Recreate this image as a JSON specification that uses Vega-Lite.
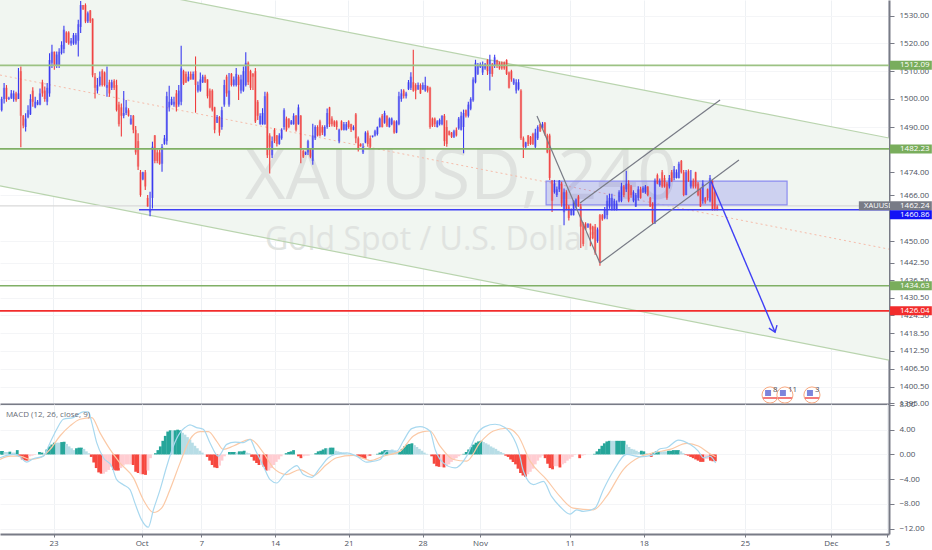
{"$schema":"https://vega.github.io/schema/vega-lite/v6.json","padding":{"left":-3,"right":0,"top":0,"bottom":0},"spacing":0,"bounds":"flush","background":"white","config":{"view":{"stroke":null},"font":"Open Sans","concat":{"spacing":0},"axis":{"labelOverlap":false},"axisY":{"labelOverlap":false},"axisQuantitative":{"labelOverlap":false}},
"datasets":{
"candles":[
{"b":0,"o":1496,"h":1500.8,"l":1495.5,"c":1500},{"b":1,"o":1500,"h":1505.7,"l":1498.4,"c":1504},{"b":2,"o":1504,"h":1505,"l":1499,"c":1500},{"b":3,"o":1500,"h":1500.8,"l":1499.6,"c":1500.4},{"b":4,"o":1500.4,"h":1503.2,"l":1500,"c":1502},{"b":5,"o":1500,"h":1503,"l":1499,"c":1502},{"b":6,"o":1502,"h":1502.6,"l":1499,"c":1499.6},{"b":7,"o":1500,"h":1511.1,"l":1500,"c":1502},{"b":8,"o":1510,"h":1511.7,"l":1482.8,"c":1494},{"b":9,"o":1494,"h":1494.3,"l":1489.6,"c":1490.5},{"b":10,"o":1490,"h":1494.9,"l":1488.4,"c":1493},{"b":11,"o":1493.5,"h":1497.8,"l":1493.1,"c":1496},{"b":12,"o":1494.5,"h":1501.7,"l":1494.3,"c":1500},{"b":13,"o":1503,"h":1504.2,"l":1497.2,"c":1499},{"b":14,"o":1497,"h":1500.8,"l":1496.7,"c":1499},{"b":15,"o":1498,"h":1499.6,"l":1497.8,"c":1499},{"b":16,"o":1498,"h":1503.8,"l":1497.8,"c":1502},{"b":17,"o":1506,"h":1506.9,"l":1500.8,"c":1502},{"b":18,"o":1503,"h":1504.5,"l":1499,"c":1500},{"b":19,"o":1499,"h":1505.7,"l":1497.8,"c":1504},{"b":20,"o":1502,"h":1516.5,"l":1500.8,"c":1514},{"b":21,"o":1513,"h":1519.5,"l":1511.1,"c":1517},{"b":22,"o":1517,"h":1517.1,"l":1510.5,"c":1512},{"b":23,"o":1512,"h":1517.1,"l":1511.1,"c":1516},{"b":24,"o":1512,"h":1518.3,"l":1511.1,"c":1517},{"b":25,"o":1516.5,"h":1520.8,"l":1516,"c":1519.5},{"b":26,"o":1518,"h":1526.4,"l":1516.5,"c":1525},{"b":27,"o":1524,"h":1524.4,"l":1520.2,"c":1520.5},{"b":28,"o":1524,"h":1524.4,"l":1519.5,"c":1520},{"b":29,"o":1520,"h":1522,"l":1519.2,"c":1521},{"b":30,"o":1520,"h":1523.8,"l":1519.5,"c":1523},{"b":31,"o":1520,"h":1523.8,"l":1519.5,"c":1523},{"b":32,"o":1521,"h":1528.6,"l":1515.3,"c":1527},{"b":33,"o":1526,"h":1535.5,"l":1523.8,"c":1534},{"b":34,"o":1534,"h":1534,"l":1532.2,"c":1532.5},{"b":35,"o":1534,"h":1534.6,"l":1527.4,"c":1528},{"b":36,"o":1528,"h":1531.6,"l":1527.4,"c":1531},{"b":37,"o":1532,"h":1532.2,"l":1527.4,"c":1528},{"b":38,"o":1529,"h":1529.2,"l":1507.8,"c":1508.5},{"b":39,"o":1508,"h":1509.3,"l":1500.2,"c":1504},{"b":40,"o":1503,"h":1507.5,"l":1502,"c":1505},{"b":41,"o":1505,"h":1509.9,"l":1504.5,"c":1508},{"b":42,"o":1510,"h":1510.7,"l":1504.5,"c":1505},{"b":43,"o":1509.5,"h":1509.9,"l":1504.5,"c":1505},{"b":44,"o":1504,"h":1511.7,"l":1500.8,"c":1505},{"b":45,"o":1506,"h":1506.9,"l":1500.8,"c":1502},{"b":46,"o":1504,"h":1506.9,"l":1503.2,"c":1506},{"b":47,"o":1506.5,"h":1507.1,"l":1503.2,"c":1504},{"b":48,"o":1505,"h":1506.9,"l":1495.5,"c":1496},{"b":49,"o":1498,"h":1499,"l":1490.2,"c":1491},{"b":50,"o":1497,"h":1498.4,"l":1486.6,"c":1494},{"b":51,"o":1494,"h":1502.9,"l":1493.1,"c":1495},{"b":52,"o":1495,"h":1499.6,"l":1494.3,"c":1497},{"b":53,"o":1496,"h":1496.7,"l":1493.7,"c":1494},{"b":54,"o":1491,"h":1494.3,"l":1490.8,"c":1493},{"b":55,"o":1494,"h":1494.3,"l":1487.8,"c":1489},{"b":56,"o":1489,"h":1490.4,"l":1480.2,"c":1481},{"b":57,"o":1485,"h":1487.8,"l":1474.8,"c":1476},{"b":58,"o":1474,"h":1474.8,"l":1465.4,"c":1466},{"b":59,"o":1471.5,"h":1474.2,"l":1471.2,"c":1474},{"b":60,"o":1474,"h":1474.8,"l":1467.8,"c":1469},{"b":61,"o":1465,"h":1466,"l":1461.9,"c":1462},{"b":62,"o":1460,"h":1467.2,"l":1458.6,"c":1461},{"b":63,"o":1465,"h":1484.8,"l":1461.3,"c":1483},{"b":64,"o":1487,"h":1487.2,"l":1477.2,"c":1478},{"b":65,"o":1481,"h":1481.9,"l":1477.2,"c":1478},{"b":66,"o":1481,"h":1481.9,"l":1476.6,"c":1477},{"b":67,"o":1477,"h":1484,"l":1474.2,"c":1483},{"b":68,"o":1484,"h":1487.2,"l":1483.7,"c":1486},{"b":69,"o":1485,"h":1502.6,"l":1483.7,"c":1501},{"b":70,"o":1497,"h":1504.7,"l":1495.5,"c":1499},{"b":71,"o":1498,"h":1500.8,"l":1497.8,"c":1500},{"b":72,"o":1498,"h":1500.8,"l":1497.2,"c":1499},{"b":73,"o":1502,"h":1503.2,"l":1495.5,"c":1497},{"b":74,"o":1498,"h":1505,"l":1497.2,"c":1503},{"b":75,"o":1499,"h":1519.2,"l":1497.8,"c":1511},{"b":76,"o":1510,"h":1510.5,"l":1505,"c":1505.5},{"b":77,"o":1509,"h":1509.9,"l":1505.7,"c":1506},{"b":78,"o":1506.5,"h":1509.9,"l":1506.3,"c":1508},{"b":79,"o":1509,"h":1509.9,"l":1506.9,"c":1507},{"b":80,"o":1507,"h":1509.9,"l":1506.9,"c":1509},{"b":81,"o":1510,"h":1515.3,"l":1495.1,"c":1505},{"b":82,"o":1503,"h":1506.3,"l":1502.3,"c":1505},{"b":83,"o":1503,"h":1509.5,"l":1502.6,"c":1507},{"b":84,"o":1506,"h":1508.7,"l":1505.7,"c":1508},{"b":85,"o":1508,"h":1508.7,"l":1505.7,"c":1506},{"b":86,"o":1507,"h":1507.1,"l":1500.2,"c":1501},{"b":87,"o":1503,"h":1503.8,"l":1496.7,"c":1497},{"b":88,"o":1503,"h":1503.5,"l":1495.5,"c":1496},{"b":89,"o":1497,"h":1497.2,"l":1487.8,"c":1489},{"b":90,"o":1491.5,"h":1494.3,"l":1491.4,"c":1493.5},{"b":91,"o":1493.5,"h":1493.9,"l":1486.9,"c":1488},{"b":92,"o":1490,"h":1497.2,"l":1489,"c":1496},{"b":93,"o":1498,"h":1506.9,"l":1497.2,"c":1505},{"b":94,"o":1508,"h":1508.7,"l":1500.8,"c":1502},{"b":95,"o":1498,"h":1509.3,"l":1497.2,"c":1503},{"b":96,"o":1509,"h":1509.3,"l":1504.5,"c":1505},{"b":97,"o":1505,"h":1508.1,"l":1504.5,"c":1507},{"b":98,"o":1505,"h":1511.1,"l":1504.5,"c":1509},{"b":99,"o":1508,"h":1508.7,"l":1499.6,"c":1505},{"b":100,"o":1503,"h":1508.7,"l":1502,"c":1507},{"b":101,"o":1503,"h":1511.7,"l":1502.6,"c":1510},{"b":102,"o":1505,"h":1516.8,"l":1504.5,"c":1513},{"b":103,"o":1513,"h":1513.5,"l":1505,"c":1506},{"b":104,"o":1510,"h":1510.5,"l":1503.2,"c":1504},{"b":105,"o":1509,"h":1509.3,"l":1503.2,"c":1508},{"b":106,"o":1510,"h":1511.1,"l":1491.4,"c":1492},{"b":107,"o":1499,"h":1499.6,"l":1492.5,"c":1494},{"b":108,"o":1491,"h":1494.9,"l":1490.8,"c":1494},{"b":109,"o":1491,"h":1496.7,"l":1490.8,"c":1495},{"b":110,"o":1491,"h":1502.6,"l":1490.8,"c":1501},{"b":111,"o":1502,"h":1502.6,"l":1479,"c":1480},{"b":112,"o":1487,"h":1487.8,"l":1473.6,"c":1483},{"b":113,"o":1480,"h":1486.6,"l":1479,"c":1485},{"b":114,"o":1489,"h":1489.6,"l":1484.3,"c":1485},{"b":115,"o":1487,"h":1487.2,"l":1483.1,"c":1484},{"b":116,"o":1484,"h":1487.8,"l":1483.7,"c":1487},{"b":117,"o":1486,"h":1489.6,"l":1485.5,"c":1489},{"b":118,"o":1490,"h":1496.7,"l":1489,"c":1496},{"b":119,"o":1493,"h":1493.7,"l":1488.4,"c":1489},{"b":120,"o":1493,"h":1493.1,"l":1489.6,"c":1490},{"b":121,"o":1491,"h":1492.5,"l":1490.8,"c":1492},{"b":122,"o":1491,"h":1494.9,"l":1490.8,"c":1494},{"b":123,"o":1494,"h":1494.3,"l":1488.4,"c":1489},{"b":124,"o":1491,"h":1498,"l":1490.8,"c":1497},{"b":125,"o":1494,"h":1494.3,"l":1477.2,"c":1482},{"b":126,"o":1481.5,"h":1481.9,"l":1479,"c":1479.5},{"b":127,"o":1480.3,"h":1481.3,"l":1480.1,"c":1481},{"b":128,"o":1481,"h":1485.5,"l":1480.1,"c":1485},
{"b":129,"o":1482,"h":1482.5,"l":1478.9,"c":1479.5},{"b":130,"o":1478,"h":1491.2,"l":1476.6,"c":1487},{"b":131,"o":1486,"h":1490.6,"l":1485.4,"c":1490},{"b":132,"o":1490,"h":1490.6,"l":1486.6,"c":1487},{"b":133,"o":1492,"h":1492.6,"l":1486.6,"c":1487},{"b":134,"o":1490,"h":1490.6,"l":1487.2,"c":1488},{"b":135,"o":1487,"h":1490.6,"l":1486.6,"c":1490},{"b":136,"o":1490,"h":1496.6,"l":1489.4,"c":1495},{"b":137,"o":1497,"h":1497.2,"l":1490,"c":1491},{"b":138,"o":1493,"h":1493.8,"l":1490.2,"c":1491},{"b":139,"o":1492,"h":1492.4,"l":1490,"c":1490.5},{"b":140,"o":1492,"h":1492.4,"l":1489,"c":1490},{"b":141,"o":1485,"h":1489.4,"l":1484.2,"c":1489},{"b":142,"o":1492,"h":1492.4,"l":1488.8,"c":1489},{"b":143,"o":1489,"h":1491.8,"l":1488.8,"c":1491},{"b":144,"o":1489,"h":1491.8,"l":1488.8,"c":1491},{"b":145,"o":1492,"h":1492.4,"l":1489.4,"c":1490},{"b":146,"o":1491,"h":1491.2,"l":1488.2,"c":1489},{"b":147,"o":1489,"h":1490.6,"l":1488.8,"c":1490},{"b":148,"o":1494.5,"h":1495,"l":1484.2,"c":1486},{"b":149,"o":1486,"h":1486.6,"l":1481.3,"c":1482},{"b":150,"o":1484,"h":1484.2,"l":1483,"c":1483.2},{"b":151,"o":1481,"h":1484.2,"l":1480.4,"c":1483},{"b":152,"o":1484.5,"h":1488.5,"l":1484.2,"c":1488},{"b":153,"o":1488,"h":1488.8,"l":1483,"c":1484},{"b":154,"o":1486,"h":1487,"l":1482.5,"c":1483},{"b":155,"o":1486.5,"h":1487,"l":1486.3,"c":1487},{"b":156,"o":1487,"h":1489,"l":1486.6,"c":1488.5},{"b":157,"o":1487.5,"h":1490.2,"l":1487,"c":1490},{"b":158,"o":1490,"h":1493.4,"l":1489.8,"c":1493},{"b":159,"o":1494,"h":1494.6,"l":1489.8,"c":1490},{"b":160,"o":1491.5,"h":1495.8,"l":1491.2,"c":1495},{"b":161,"o":1494,"h":1494.2,"l":1490,"c":1490.5},{"b":162,"o":1490,"h":1493.4,"l":1489.8,"c":1493},{"b":163,"o":1491,"h":1493.4,"l":1490.6,"c":1493},{"b":164,"o":1492,"h":1492.4,"l":1487.6,"c":1488},{"b":165,"o":1488,"h":1492.4,"l":1487.8,"c":1492},{"b":166,"o":1491,"h":1502.6,"l":1490.6,"c":1501},{"b":167,"o":1500,"h":1503.5,"l":1499,"c":1502},{"b":168,"o":1503,"h":1503.5,"l":1500.2,"c":1501},{"b":169,"o":1501,"h":1502.6,"l":1500.2,"c":1502},{"b":170,"o":1503.5,"h":1506.8,"l":1503.2,"c":1506},{"b":171,"o":1504,"h":1509.6,"l":1503.2,"c":1508},{"b":172,"o":1506,"h":1517.7,"l":1502.6,"c":1503},{"b":173,"o":1505,"h":1505.6,"l":1499.9,"c":1503},{"b":174,"o":1503.5,"h":1505.9,"l":1503.2,"c":1505},{"b":175,"o":1505,"h":1505.6,"l":1501.8,"c":1502},{"b":176,"o":1503.5,"h":1505.9,"l":1503.2,"c":1505},{"b":177,"o":1503,"h":1508,"l":1502.6,"c":1505},{"b":178,"o":1504.5,"h":1504.7,"l":1502.3,"c":1503},{"b":179,"o":1504,"h":1504.4,"l":1489.4,"c":1490},{"b":180,"o":1493,"h":1493.4,"l":1490,"c":1490.5},{"b":181,"o":1493,"h":1493.4,"l":1490,"c":1491},{"b":182,"o":1490,"h":1492.4,"l":1489.8,"c":1492},{"b":183,"o":1491,"h":1493,"l":1490.5,"c":1492.5},
{"b":184,"o":1491,"h":1494.2,"l":1490.6,"c":1494},{"b":185,"o":1494,"h":1494.6,"l":1483.3,"c":1485},{"b":186,"o":1490,"h":1492.4,"l":1483,"c":1484},{"b":187,"o":1488.5,"h":1488.8,"l":1487,"c":1487.2},{"b":188,"o":1488,"h":1488.2,"l":1486.1,"c":1486.5},{"b":189,"o":1486.5,"h":1489,"l":1486.1,"c":1488.5},{"b":190,"o":1489,"h":1489.8,"l":1486.6,"c":1487},{"b":191,"o":1489.5,"h":1493.6,"l":1489,"c":1493},{"b":192,"o":1489,"h":1495.4,"l":1488.8,"c":1494},{"b":193,"o":1490,"h":1496.2,"l":1480.7,"c":1495},{"b":194,"o":1496,"h":1496.2,"l":1493.4,"c":1494},{"b":195,"o":1494,"h":1499,"l":1493.4,"c":1498},{"b":196,"o":1496.5,"h":1500.6,"l":1496,"c":1500},{"b":197,"o":1499.5,"h":1507.8,"l":1499,"c":1507},{"b":198,"o":1506,"h":1514.1,"l":1505.6,"c":1513},{"b":199,"o":1509,"h":1512.9,"l":1508.6,"c":1512},{"b":200,"o":1511.5,"h":1513.1,"l":1511.1,"c":1512.5},{"b":201,"o":1509.5,"h":1513.5,"l":1508.6,"c":1512},{"b":202,"o":1511,"h":1512.9,"l":1510.5,"c":1512.5},{"b":203,"o":1514,"h":1514.3,"l":1508.6,"c":1510},{"b":204,"o":1509,"h":1515.9,"l":1503,"c":1514},{"b":205,"o":1512.5,"h":1512.9,"l":1508,"c":1509},{"b":206,"o":1512,"h":1515.9,"l":1511.1,"c":1515},{"b":207,"o":1514,"h":1514.1,"l":1511.1,"c":1512},{"b":208,"o":1513,"h":1513.5,"l":1510.5,"c":1511},{"b":209,"o":1513,"h":1513.5,"l":1510.5,"c":1511},{"b":210,"o":1513,"h":1513.5,"l":1510.5,"c":1511},{"b":211,"o":1514,"h":1514.3,"l":1508.6,"c":1509},{"b":212,"o":1509.5,"h":1509.9,"l":1503.8,"c":1504},{"b":213,"o":1510,"h":1510.5,"l":1506.2,"c":1507},{"b":214,"o":1505.5,"h":1507.4,"l":1505,"c":1507},{"b":215,"o":1503,"h":1507.1,"l":1502,"c":1506},{"b":216,"o":1503.5,"h":1507.1,"l":1503,"c":1506},{"b":217,"o":1503,"h":1503.5,"l":1485.4,"c":1486},{"b":218,"o":1486,"h":1486.6,"l":1479,"c":1483},{"b":219,"o":1483,"h":1484.8,"l":1482.5,"c":1484.5},{"b":220,"o":1487,"h":1487.2,"l":1483.3,"c":1484},{"b":221,"o":1486.5,"h":1486.8,"l":1483.6,"c":1484},{"b":222,"o":1487.5,"h":1488,"l":1483.6,"c":1484},{"b":223,"o":1483,"h":1489.4,"l":1482.5,"c":1488},{"b":224,"o":1486,"h":1490.6,"l":1485.4,"c":1490},{"b":225,"o":1491,"h":1491.2,"l":1488.2,"c":1488.5},{"b":226,"o":1489.5,"h":1491.8,"l":1489.4,"c":1491},{"b":227,"o":1491.5,"h":1491.8,"l":1487,"c":1487.5},{"b":228,"o":1487,"h":1487.6,"l":1480.7,"c":1481},{"b":229,"o":1487,"h":1487.6,"l":1471.3,"c":1472},{"b":230,"o":1471,"h":1471.3,"l":1460.1,"c":1464},{"b":231,"o":1467,"h":1471.3,"l":1466.5,"c":1470},{"b":232,"o":1466,"h":1469,"l":1465.3,"c":1468},{"b":233,"o":1468,"h":1471.3,"l":1467.1,"c":1471},{"b":234,"o":1470,"h":1470.7,"l":1461.9,"c":1463},{"b":235,"o":1460,"h":1468.3,"l":1455.5,"c":1467},{"b":236,"o":1467,"h":1467.7,"l":1460.7,"c":1461},{"b":237,"o":1462,"h":1462.5,"l":1457.1,"c":1458},{"b":238,"o":1459,"h":1461.3,"l":1458.9,"c":1461},{"b":239,"o":1459,"h":1464.2,"l":1458.9,"c":1464},{"b":240,"o":1462,"h":1464.8,"l":1461.3,"c":1464.5},{"b":241,"o":1465.5,"h":1466,"l":1461.9,"c":1462},
{"b":242,"o":1462,"h":1463,"l":1447.6,"c":1455},{"b":243,"o":1456,"h":1456.5,"l":1448.2,"c":1449},{"b":244,"o":1456,"h":1456.5,"l":1453.8,"c":1454},{"b":245,"o":1454.8,"h":1456.2,"l":1454.5,"c":1456},{"b":246,"o":1456,"h":1456.1,"l":1448.2,"c":1454},{"b":247,"o":1455,"h":1455.3,"l":1450.6,"c":1451},{"b":248,"o":1455,"h":1455.9,"l":1445.3,"c":1446},{"b":249,"o":1450,"h":1454.7,"l":1449.4,"c":1454},{"b":250,"o":1459,"h":1459.4,"l":1441.5,"c":1442.5},{"b":251,"o":1459,"h":1459.4,"l":1457,"c":1457.5},{"b":252,"o":1458,"h":1461.8,"l":1457.6,"c":1461},{"b":253,"o":1459,"h":1465.9,"l":1457.6,"c":1464},{"b":254,"o":1462,"h":1466.5,"l":1461.2,"c":1465},{"b":255,"o":1461,"h":1466.5,"l":1460.6,"c":1465},{"b":256,"o":1461,"h":1464.7,"l":1460.6,"c":1464},{"b":257,"o":1461,"h":1464.1,"l":1460.6,"c":1463},{"b":258,"o":1464,"h":1467.7,"l":1463.5,"c":1467},{"b":259,"o":1464,"h":1470.3,"l":1463.5,"c":1469},{"b":260,"o":1469,"h":1469.5,"l":1465.3,"c":1466},{"b":261,"o":1468,"h":1474.5,"l":1467.1,"c":1470},{"b":262,"o":1470,"h":1471.2,"l":1463.5,"c":1464},{"b":263,"o":1469,"h":1469.5,"l":1465.1,"c":1466},{"b":264,"o":1464,"h":1467.7,"l":1463.5,"c":1467},{"b":265,"o":1462,"h":1466.7,"l":1461.8,"c":1466},{"b":266,"o":1465,"h":1469.1,"l":1464.1,"c":1468},{"b":267,"o":1468,"h":1468.9,"l":1464.7,"c":1465},{"b":268,"o":1467,"h":1469.1,"l":1466.7,"c":1468.5},{"b":269,"o":1467,"h":1469.5,"l":1466.5,"c":1469},{"b":270,"o":1469,"h":1469.1,"l":1465.6,"c":1466},{"b":271,"o":1465,"h":1465.3,"l":1461.8,"c":1462},{"b":272,"o":1463,"h":1463.5,"l":1455.9,"c":1456.5},{"b":273,"o":1456.5,"h":1471.8,"l":1455.9,"c":1471},{"b":274,"o":1473,"h":1473.6,"l":1469.8,"c":1470},{"b":275,"o":1469.5,"h":1471.8,"l":1468.9,"c":1471},{"b":276,"o":1474,"h":1474.8,"l":1468.6,"c":1469},{"b":277,"o":1472,"h":1473,"l":1468.6,"c":1469},{"b":278,"o":1470,"h":1470.6,"l":1464.4,"c":1465},{"b":279,"o":1469,"h":1473,"l":1468.3,"c":1472},{"b":280,"o":1474,"h":1474.8,"l":1470.6,"c":1471},{"b":281,"o":1472,"h":1476.2,"l":1471.2,"c":1475},{"b":282,"o":1472,"h":1475,"l":1471.8,"c":1474},{"b":283,"o":1472,"h":1477.7,"l":1471.8,"c":1477},{"b":284,"o":1478,"h":1478.3,"l":1473.6,"c":1474},{"b":285,"o":1474,"h":1474.8,"l":1465.6,"c":1466},{"b":286,"o":1466,"h":1474.8,"l":1465.9,"c":1474},{"b":287,"o":1474.5,"h":1475,"l":1470.6,"c":1471},{"b":288,"o":1469,"h":1474.8,"l":1468.3,"c":1471},{"b":289,"o":1471,"h":1471.8,"l":1468.3,"c":1469},{"b":290,"o":1474,"h":1474.2,"l":1468.3,"c":1469},{"b":291,"o":1470,"h":1470.6,"l":1465.6,"c":1466},{"b":292,"o":1468,"h":1468.6,"l":1461.8,"c":1462},{"b":293,"o":1464,"h":1471.2,"l":1463,"c":1470},{"b":294,"o":1465,"h":1465.3,"l":1463,"c":1463.5},{"b":295,"o":1468,"h":1468.3,"l":1464.1,"c":1465},{"b":296,"o":1464,"h":1473,"l":1463.5,"c":1472},{"b":297,"o":1471,"h":1471.2,"l":1460.6,"c":1461},{"b":298,"o":1467,"h":1467.7,"l":1460.6,"c":1461},{"b":299,"o":1462,"h":1462.4,"l":1460.6,"c":1461}
],
"channel":[{"b":-0.71,"up":1549,"lo":1469.2,"mid":1508.6},{"b":370.8,"up":1486.1,"lo":1409.4,"mid":1447.2}],
"levels":[{"name":"a","p":1512.09,"t":"1512.09"},{"name":"b","p":1482.23,"t":"1482.23"},{"name":"c","p":1462.24,"t":"1462.24"},{"name":"d","p":1460.86,"t":"1460.86"},{"name":"e","p":1434.63,"t":"1434.63"},{"name":"f","p":1426.04,"t":"1426.04"}],
"trend":[{"s":"t1","b":223.7,"p":1493.9},{"s":"t1","b":250,"p":1442.4},{"s":"t2","b":250,"p":1442.4},{"s":"t2","b":308.1,"p":1478.3},{"s":"t3","b":241.7,"p":1463.2},{"s":"t3","b":300.2,"p":1499.6}],
"arrow":[{"s":"a1","b":296.4,"p":1470.9},{"s":"a1","b":323.2,"p":1418.8},{"s":"a2","b":320.6,"p":1420.2},{"s":"a2","b":323.2,"p":1418.8},{"s":"a2","b":324,"p":1421.2}],
"events":[{"b":321.1,"p":1397.7,"n":"8"},{"b":327.3,"p":1397.7,"n":"11"},{"b":338.6,"p":1397.7,"n":"3"}],
"hist":[{"b":0.6,"v":0.55,"k":"U"},{"b":1,"v":0.55,"k":"U"},{"b":2,"v":0.4,"k":"u"},{"b":3,"v":0.4,"k":"u"},{"b":4,"v":0.45,"k":"U"},{"b":5,"v":0.3,"k":"u"},{"b":6,"v":0.3,"k":"u"},{"b":7,"v":0.7,"k":"U"},{"b":8,"v":-0.4,"k":"D"},{"b":9,"v":-0.8,"k":"D"},{"b":10,"v":-0.95,"k":"D"},{"b":11,"v":-1,"k":"D"},{"b":12,"v":-0.3,"k":"d"},{"b":13,"v":-0.2,"k":"d"},{"b":14,"v":-0.1,"k":"d"},{"b":16,"v":0.4,"k":"U"},{"b":17,"v":0.3,"k":"U"},{"b":18,"v":0.2,"k":"u"},{"b":19,"v":0.8,"k":"U"},{"b":20,"v":1.3,"k":"U"},{"b":21,"v":1.6,"k":"U"},{"b":22,"v":1.9,"k":"U"},{"b":23,"v":1.9,"k":"u"},{"b":24,"v":1.9,"k":"u"},{"b":25,"v":2,"k":"U"},{"b":26,"v":2.05,"k":"U"},{"b":27,"v":1.7,"k":"u"},{"b":28,"v":1.3,"k":"u"},{"b":29,"v":1,"k":"u"},{"b":30,"v":0.7,"k":"u"},{"b":31,"v":1,"k":"U"},{"b":32,"v":1.1,"k":"U"},{"b":33,"v":1.1,"k":"U"},{"b":34,"v":0.9,"k":"u"},{"b":35,"v":0.5,"k":"u"},{"b":36,"v":0.2,"k":"u"},{"b":37,"v":-0.4,"k":"D"},{"b":38,"v":-1.3,"k":"D"},{"b":39,"v":-2.2,"k":"D"},{"b":40,"v":-2.9,"k":"D"},{"b":41,"v":-3.1,"k":"D"},{"b":42,"v":-3.1,"k":"d"},{"b":43,"v":-2.8,"k":"d"},{"b":44,"v":-2.5,"k":"d"},{"b":45,"v":-2,"k":"d"},{"b":46,"v":-2.5,"k":"D"},{"b":47,"v":-2.6,"k":"D"},{"b":48,"v":-2.6,"k":"D"},{"b":49,"v":-2.2,"k":"d"},{"b":50,"v":-1.8,"k":"d"},{"b":51,"v":-1.6,"k":"d"},{"b":52,"v":-1.6,"k":"d"},{"b":53,"v":-1.6,"k":"d"},{"b":54,"v":-1.7,"k":"D"},{"b":55,"v":-2.8,"k":"D"},{"b":56,"v":-3,"k":"D"},{"b":57,"v":-3.2,"k":"d"},{"b":58,"v":-3.2,"k":"D"},{"b":59,"v":-3.3,"k":"D"},{"b":60,"v":-2.6,"k":"d"},{"b":61,"v":-0.6,"k":"d"},{"b":63,"v":0.2,"k":"U"},{"b":64,"v":0.7,"k":"U"},{"b":65,"v":1.3,"k":"U"},{"b":66,"v":2.2,"k":"U"},{"b":67,"v":3,"k":"U"},{"b":68,"v":3.7,"k":"U"},{"b":69,"v":3.9,"k":"U"},{"b":70,"v":3.9,"k":"u"},{"b":71,"v":3.9,"k":"U"},{"b":72,"v":4,"k":"U"},{"b":73,"v":3.9,"k":"U"},{"b":74,"v":3.5,"k":"u"},{"b":75,"v":3.2,"k":"u"},{"b":76,"v":2.8,"k":"u"},{"b":77,"v":2.4,"k":"u"},{"b":78,"v":1.9,"k":"u"},{"b":79,"v":1.4,"k":"u"},{"b":80,"v":1,"k":"u"},{"b":81,"v":0.6,"k":"u"},{"b":82,"v":0.3,"k":"u"},{"b":84,"v":-0.4,"k":"D"},{"b":85,"v":-1,"k":"D"},{"b":86,"v":-1.7,"k":"D"},{"b":87,"v":-2.1,"k":"D"},{"b":88,"v":-2.2,"k":"D"},{"b":89,"v":-1.8,"k":"d"},{"b":90,"v":-1,"k":"d"},{"b":91,"v":-0.3,"k":"d"},{"b":93,"v":0.4,"k":"U"},{"b":94,"v":0.4,"k":"U"},{"b":95,"v":0.4,"k":"U"},{"b":96,"v":0.3,"k":"u"},{"b":97,"v":0.5,"k":"U"},{"b":98,"v":0.5,"k":"U"},{"b":99,"v":0.6,"k":"U"},{"b":100,"v":0.3,"k":"u"},{"b":101,"v":0.2,"k":"u"},{"b":102,"v":-0.4,"k":"D"},{"b":103,"v":-1,"k":"D"},{"b":104,"v":-1.4,"k":"D"},{"b":105,"v":-1.7,"k":"D"},{"b":106,"v":-1.7,"k":"d"},{"b":107,"v":-2,"k":"D"},{"b":108,"v":-2.6,"k":"D"},{"b":109,"v":-2.6,"k":"d"},{"b":110,"v":-2.2,"k":"d"},{"b":111,"v":-1.7,"k":"d"},{"b":112,"v":-1.2,"k":"d"},{"b":113,"v":-0.8,"k":"d"},{"b":114,"v":-0.3,"k":"d"},{"b":116,"v":0.2,"k":"U"},{"b":117,"v":0.4,"k":"U"},{"b":118,"v":0.5,"k":"U"},{"b":119,"v":0.7,"k":"U"},{"b":121,"v":-0.3,"k":"D"},{"b":122,"v":-0.6,"k":"D"},{"b":123,"v":-0.3,"k":"d"},{"b":124,"v":-0.2,"k":"d"},{"b":125,"v":-0.2,"k":"d"},{"b":128,"v":0.2,"k":"U"},{"b":129,"v":0.5,"k":"U"},{"b":130,"v":0.6,"k":"U"},{"b":131,"v":0.8,"k":"U"},{"b":132,"v":1,"k":"U"},{"b":133,"v":1,"k":"u"},{"b":134,"v":1.1,"k":"U"},{"b":135,"v":1.1,"k":"U"},{"b":136,"v":0.6,"k":"u"},{"b":137,"v":0.5,"k":"u"},{"b":138,"v":0.4,"k":"u"},{"b":139,"v":0.3,"k":"u"},{"b":140,"v":0.2,"k":"u"},{"b":141,"v":0.1,"k":"u"},{"b":142,"v":0.1,"k":"u"},{"b":145,"v":-0.3,"k":"D"},{"b":146,"v":-0.5,"k":"D"},{"b":147,"v":-0.6,"k":"D"},{"b":148,"v":-0.7,"k":"D"},{"b":149,"v":-0.3,"k":"d"},{"b":150,"v":-0.2,"k":"D"},{"b":153,"v":0.1,"k":"U"},{"b":154,"v":0.3,"k":"U"},{"b":155,"v":0.5,"k":"U"},{"b":156,"v":0.7,"k":"U"},{"b":157,"v":0.7,"k":"U"},{"b":158,"v":0.7,"k":"u"},{"b":159,"v":0.8,"k":"u"},{"b":160,"v":0.6,"k":"u"},{"b":161,"v":0.4,"k":"u"},{"b":162,"v":0.4,"k":"U"},{"b":163,"v":0.9,"k":"U"},{"b":164,"v":1.3,"k":"U"},{"b":165,"v":1.6,"k":"U"},{"b":166,"v":1.7,"k":"U"},{"b":167,"v":1.8,"k":"U"},{"b":168,"v":1.5,"k":"u"},{"b":169,"v":1.2,"k":"u"},{"b":170,"v":0.9,"k":"u"},{"b":171,"v":0.6,"k":"u"},{"b":172,"v":0.3,"k":"u"},{"b":173,"v":0.1,"k":"u"},{"b":175,"v":-0.3,"k":"D"},{"b":176,"v":-1.5,"k":"D"},{"b":177,"v":-1.9,"k":"D"},{"b":178,"v":-2,"k":"D"},{"b":179,"v":-2,"k":"d"},{"b":180,"v":-2.1,"k":"D"},{"b":181,"v":-1.9,"k":"d"},{"b":182,"v":-1.6,"k":"d"},{"b":183,"v":-1.2,"k":"d"},{"b":184,"v":-0.9,"k":"d"},{"b":185,"v":-0.6,"k":"d"},{"b":186,"v":-0.3,"k":"d"},{"b":187,"v":-0.1,"k":"d"},{"b":188,"v":0.1,"k":"U"},{"b":189,"v":0.4,"k":"U"},{"b":190,"v":0.8,"k":"U"},{"b":191,"v":1.2,"k":"U"},{"b":192,"v":1.6,"k":"U"},{"b":193,"v":1.9,"k":"U"},{"b":194,"v":2.1,"k":"U"},{"b":195,"v":2.2,"k":"U"},{"b":196,"v":2,"k":"u"},{"b":197,"v":1.8,"k":"u"},{"b":198,"v":1.6,"k":"u"},{"b":199,"v":1.3,"k":"u"},{"b":200,"v":1.1,"k":"u"},{"b":201,"v":0.9,"k":"u"},{"b":202,"v":0.6,"k":"u"},{"b":203,"v":0.4,"k":"u"},{"b":204,"v":0.2,"k":"u"},{"b":205,"v":-0.2,"k":"D"},{"b":206,"v":-0.4,"k":"D"},{"b":207,"v":-0.8,"k":"D"},{"b":208,"v":-1.2,"k":"D"},{"b":209,"v":-1.6,"k":"D"},{"b":210,"v":-2.3,"k":"D"},{"b":211,"v":-3,"k":"D"},{"b":212,"v":-3.4,"k":"D"},{"b":213,"v":-3.6,"k":"D"},{"b":214,"v":-3.2,"k":"d"},{"b":215,"v":-2.8,"k":"d"},{"b":216,"v":-2.3,"k":"d"},{"b":217,"v":-1.6,"k":"d"},{"b":218,"v":-1,"k":"d"},{"b":219,"v":-0.5,"k":"d"},{"b":220,"v":-0.2,"k":"d"},{"b":221,"v":-0.6,"k":"D"},{"b":222,"v":-1.5,"k":"D"},{"b":223,"v":-2.2,"k":"D"},{"b":224,"v":-2.4,"k":"D"},{"b":225,"v":-1.9,"k":"d"},{"b":226,"v":-1.9,"k":"d"},{"b":227,"v":-2.1,"k":"D"},{"b":228,"v":-1.6,"k":"d"},{"b":229,"v":-1.4,"k":"d"},{"b":230,"v":-1,"k":"d"},{"b":231,"v":-0.7,"k":"d"},{"b":232,"v":-0.4,"k":"d"},{"b":233,"v":-0.1,"k":"d"},{"b":235,"v":-0.6,"k":"D"},{"b":236,"v":-0.2,"k":"d"},{"b":237,"v":-0.1,"k":"d"},{"b":241,"v":0.1,"k":"U"},{"b":242,"v":0.5,"k":"U"},{"b":243,"v":0.9,"k":"U"},{"b":244,"v":1.4,"k":"U"},{"b":245,"v":1.8,"k":"U"},{"b":246,"v":2.1,"k":"U"},{"b":247,"v":2.2,"k":"U"},{"b":248,"v":2.2,"k":"u"},{"b":249,"v":2.2,"k":"u"},{"b":250,"v":2.2,"k":"U"},{"b":251,"v":2.2,"k":"U"},{"b":252,"v":2.2,"k":"U"},{"b":253,"v":2.2,"k":"U"},{"b":254,"v":1.6,"k":"u"},{"b":255,"v":1.2,"k":"u"},{"b":256,"v":0.9,"k":"u"},{"b":257,"v":0.8,"k":"u"},{"b":258,"v":0.6,"k":"u"},{"b":259,"v":0.4,"k":"u"},{"b":260,"v":0.6,"k":"U"},{"b":261,"v":0.5,"k":"U"},{"b":262,"v":0.2,"k":"u"},{"b":264,"v":-0.4,"k":"D"},{"b":265,"v":0.3,"k":"U"},{"b":266,"v":0.5,"k":"U"},{"b":267,"v":0.4,"k":"U"},{"b":268,"v":0.5,"k":"u"},{"b":269,"v":0.5,"k":"u"},{"b":270,"v":0.5,"k":"u"},{"b":271,"v":0.6,"k":"U"},{"b":272,"v":0.6,"k":"U"},{"b":273,"v":0.7,"k":"U"},{"b":274,"v":0.7,"k":"U"},{"b":275,"v":0.7,"k":"U"},{"b":276,"v":0.5,"k":"u"},{"b":277,"v":0.2,"k":"u"},{"b":278,"v":-0.1,"k":"D"},{"b":279,"v":-0.2,"k":"D"},{"b":280,"v":-0.4,"k":"D"},{"b":281,"v":-0.6,"k":"D"},{"b":282,"v":-0.8,"k":"D"},{"b":283,"v":-1,"k":"D"},{"b":284,"v":-1.2,"k":"D"},{"b":285,"v":-1.2,"k":"D"},{"b":286,"v":-0.7,"k":"d"},{"b":287,"v":-0.7,"k":"d"},{"b":288,"v":-1,"k":"D"},{"b":289,"v":-1.1,"k":"D"},{"b":290,"v":-1.1,"k":"D"}],
"macd":[{"b":0,"v":-0.54},{"b":5.4,"v":0},{"b":8.1,"v":-0.38},{"b":10.8,"v":-1.25},{"b":13.5,"v":-0.7},{"b":17.6,"v":-0.27},{"b":20.3,"v":1.9},{"b":23,"v":4.07},{"b":25.7,"v":5.69},{"b":29.7,"v":5.96},{"b":33.8,"v":6.88},{"b":35.8,"v":6.88},{"b":37.2,"v":5.15},{"b":39.2,"v":1.9},{"b":41.9,"v":-0.54},{"b":45.3,"v":-1.9},{"b":47.3,"v":-4.07},{"b":50,"v":-4.88},{"b":52.7,"v":-5.69},{"b":54.7,"v":-7.86},{"b":57.4,"v":-10.57},{"b":60.1,"v":-11.76},{"b":62.2,"v":-8.94},{"b":64.9,"v":-5.69},{"b":67.6,"v":-1.9},{"b":70.3,"v":1.36},{"b":73,"v":3.52},{"b":75,"v":4.34},{"b":77,"v":4.77},{"b":79.7,"v":4.34},{"b":82.4,"v":4.07},{"b":85.1,"v":1.9},{"b":88.5,"v":-0.27},{"b":91.9,"v":1.63},{"b":95.3,"v":2},{"b":98.6,"v":1.9},{"b":101.4,"v":2.44},{"b":103.4,"v":0.81},{"b":106.8,"v":-1.9},{"b":109.5,"v":-4.07},{"b":112.2,"v":-4.61},{"b":114.9,"v":-3.41},{"b":117.6,"v":-2.44},{"b":120.3,"v":-1.79},{"b":123,"v":-3.25},{"b":126.4,"v":-3.69},{"b":129.7,"v":-2.17},{"b":133.1,"v":-0.54},{"b":135.8,"v":0},{"b":140.5,"v":0.27},{"b":144.6,"v":-0.27},{"b":148.6,"v":-1.25},{"b":150,"v":-1.19},{"b":154.1,"v":-0.81},{"b":156.8,"v":0.54},{"b":160.8,"v":0.54},{"b":163.5,"v":2.17},{"b":166.9,"v":4.17},{"b":170.3,"v":4.5},{"b":174.3,"v":3.79},{"b":176.4,"v":0.81},{"b":179.7,"v":-1.36},{"b":184.5,"v":-2.17},{"b":189.2,"v":-0.27},{"b":193.2,"v":3.25},{"b":196.6,"v":4.5},{"b":200.7,"v":4.88},{"b":204.7,"v":4.34},{"b":208.1,"v":2.71},{"b":210.1,"v":0.81},{"b":212.2,"v":-2.71},{"b":216.2,"v":-4.88},{"b":220.3,"v":-4.34},{"b":223.6,"v":-6.78},{"b":227,"v":-8.4},{"b":231.1,"v":-9.65},{"b":233.8,"v":-8.94},{"b":236.5,"v":-9.21},{"b":241.2,"v":-8.67},{"b":244.6,"v":-5.69},{"b":248.6,"v":-2.71},{"b":254.1,"v":0},{"b":259.5,"v":-0.38},{"b":264.2,"v":-0.16},{"b":267.6,"v":0.92},{"b":270.3,"v":1.08},{"b":275,"v":2.33},{"b":279.7,"v":1.63},{"b":283.1,"v":0.54},{"b":285.1,"v":-0.54},{"b":287.8,"v":-0.27},{"b":290.1,"v":-1.36}],
"signal":[{"b":0,"v":-0.81},{"b":4.1,"v":-0.27},{"b":8.1,"v":-0.27},{"b":12.2,"v":-0.81},{"b":16.2,"v":-0.54},{"b":20.3,"v":0.81},{"b":24.3,"v":2.98},{"b":28.4,"v":4.61},{"b":32.4,"v":5.69},{"b":37.2,"v":5.96},{"b":40.5,"v":3.52},{"b":44.6,"v":0.81},{"b":48.6,"v":-1.36},{"b":54.1,"v":-3.79},{"b":58.1,"v":-7.32},{"b":62.2,"v":-9.38},{"b":65.5,"v":-8.67},{"b":68.9,"v":-5.69},{"b":73,"v":-1.36},{"b":77,"v":2.44},{"b":81.1,"v":3.69},{"b":84.5,"v":3.69},{"b":87.8,"v":2.17},{"b":90.5,"v":0.81},{"b":94.6,"v":1.36},{"b":101.4,"v":2.44},{"b":106.8,"v":0.27},{"b":110.8,"v":-2.17},{"b":116.2,"v":-3.25},{"b":121.6,"v":-2.44},{"b":127,"v":-3.41},{"b":132.4,"v":-1.63},{"b":136.5,"v":-0.54},{"b":143.2,"v":-0.16},{"b":148.6,"v":-0.81},{"b":150,"v":-0.98},{"b":155.4,"v":-0.27},{"b":162.2,"v":0.54},{"b":167.6,"v":2.98},{"b":171.6,"v":3.69},{"b":174.3,"v":3.79},{"b":178.4,"v":1.36},{"b":183.8,"v":-0.81},{"b":189.2,"v":-1.08},{"b":194.6,"v":1.9},{"b":200,"v":3.79},{"b":205.4,"v":4.23},{"b":210.1,"v":2.98},{"b":214.9,"v":-1.08},{"b":221.6,"v":-4.07},{"b":227,"v":-6.78},{"b":232.4,"v":-8.67},{"b":240.5,"v":-8.94},{"b":245.9,"v":-6.78},{"b":252.7,"v":-2.44},{"b":259.5,"v":-0.38},{"b":264.9,"v":0.27},{"b":271.6,"v":0.81},{"b":278.4,"v":1.79},{"b":283.1,"v":1.36},{"b":287.8,"v":0.11},{"b":290.1,"v":-0.38}]
},
"vconcat":[
{"width":889,"height":404,
"resolve":{"scale":{"color":"independent"}},
"layer":[
{"data":{"name":"channel"},"mark":{"type":"area","color":"#f1f6f1","clip":true},
"encoding":{"x":{"field":"b","type":"quantitative","title":null,"scale":{"domain":[-0.71,370.8],"nice":false,"zero":false,"padding":0},
"axis":{"orient":"bottom","tickCount":40,"values":[21.6,58.4,83.4,114.2,144.9,175.9,199.9,237.5,268.4,310.6,346.5,370.2],"labels":false,"ticks":false,"grid":true,"gridColor":"#eef1f4","gridWidth":1,"domainColor":"#787b86","domainWidth":2,"title":null}},
"y":{"field":"up","type":"quantitative","title":null,"scale":{"type":"log","domain":[1394.7,1535.85],"nice":false},
"axis":{"orient":"right","tickCount":40,"values":[1530,1520,1510,1500,1490,1474,1466,1450,1442.5,1436.5,1430.5,1424.5,1418.5,1412.5,1406.5,1400.5,1395],"format":".2f","labelFontSize":8,"labelColor":"#4c525e","labelOverlap":false,"labelBound":false,"labelFlush":false,"tickSize":5,"tickColor":"#787b86","labelPadding":5,"domainColor":"#787b86","domainWidth":2,"grid":true,"gridColor":"#f4f5f7","title":null}},
"y2":{"field":"lo"}}},
{"data":{"values":[{"b":101.7,"p":1472,"t":"XAUUSD, 240"}]},"mark":{"type":"text","align":"left","baseline":"middle","fontSize":70,"color":"#dfe2df"},"encoding":{"x":{"field":"b","type":"quantitative"},"y":{"field":"p","type":"quantitative"},"text":{"field":"t"}}},
{"data":{"values":[{"b":110,"p":1450.4,"t":"Gold Spot / U.S. Dollar"}]},"mark":{"type":"text","align":"left","baseline":"middle","fontSize":32,"color":"#e0e3e0"},"encoding":{"x":{"field":"b","type":"quantitative"},"y":{"field":"p","type":"quantitative"},"text":{"field":"t"}}},
{"data":{"name":"channel"},"mark":{"type":"line","color":"#b9d4ae","strokeWidth":1.2,"clip":true},"encoding":{"x":{"field":"b","type":"quantitative"},"y":{"field":"up","type":"quantitative"}}},
{"data":{"name":"channel"},"mark":{"type":"line","color":"#b9d4ae","strokeWidth":1.2,"clip":true},"encoding":{"x":{"field":"b","type":"quantitative"},"y":{"field":"lo","type":"quantitative"}}},
{"data":{"name":"channel"},"mark":{"type":"line","color":"#f6bcaa","strokeWidth":1,"strokeDash":[2,3],"clip":true},"encoding":{"x":{"field":"b","type":"quantitative"},"y":{"field":"mid","type":"quantitative"}}},
{"data":{"values":[{"p":1462.24}]},"mark":{"type":"rule","color":"#d9d9d9","strokeWidth":1.2},"encoding":{"y":{"field":"p","type":"quantitative"}}},
{"data":{"values":[{"b":227.5,"b2":328.2,"p":1470.9,"p2":1462.6}]},"mark":{"type":"rect","fill":"#4242f0","fillOpacity":0.2,"stroke":"#8c8cf0","strokeWidth":1.2},"encoding":{"x":{"field":"b","type":"quantitative"},"x2":{"field":"b2"},"y":{"field":"p","type":"quantitative"},"y2":{"field":"p2"}}},
{"data":{"name":"candles"},"mark":{"type":"rule","strokeWidth":2.4,"opacity":0.45,"clip":true},"encoding":{"x":{"field":"b","type":"quantitative"},"y":{"field":"o","type":"quantitative"},"y2":{"field":"c"},"color":{"condition":{"test":"datum.c>=datum.o","value":"#3b3bf0"},"value":"#f03c3c"}}},
{"data":{"name":"candles"},"mark":{"type":"rule","strokeWidth":1.1,"clip":true},"encoding":{"x":{"field":"b","type":"quantitative"},"y":{"field":"l","type":"quantitative"},"y2":{"field":"h"},"color":{"condition":{"test":"datum.c>=datum.o","value":"#3b3bf0"},"value":"#f03c3c"}}},
{"data":{"name":"levels"},"transform":[{"filter":"datum.name!='c'&&datum.name!='d'"}],"mark":{"type":"rule","strokeWidth":1.6,"clip":true},"encoding":{"y":{"field":"p","type":"quantitative"},"color":{"field":"name","type":"nominal","legend":null,"scale":{"domain":["a","b","c","d","e","f"],"range":["#9cc283","#80b066","#787b86","#3f3ff5","#80b066","#f22c2c"]}}}},
{"data":{"values":[{"b":57.4,"b2":370.8,"p":1460.86}]},"mark":{"type":"rule","color":"#3f3ff5","strokeWidth":1.4},"encoding":{"x":{"field":"b","type":"quantitative"},"x2":{"field":"b2"},"y":{"field":"p","type":"quantitative"}}},
{"data":{"name":"trend"},"mark":{"type":"line","color":"#787b86","strokeWidth":1.2},"encoding":{"x":{"field":"b","type":"quantitative"},"y":{"field":"p","type":"quantitative"},"detail":{"field":"s"},"order":{"field":"b"}}},
{"data":{"name":"arrow"},"mark":{"type":"line","color":"#3f3ff5","strokeWidth":1.4},"encoding":{"x":{"field":"b","type":"quantitative"},"y":{"field":"p","type":"quantitative"},"detail":{"field":"s"},"order":{"field":"b"}}},
{"data":{"name":"events"},"mark":{"type":"point","shape":"circle","size":260,"filled":false,"stroke":"#f7a880","strokeWidth":1,"fill":"white","fillOpacity":1},"encoding":{"x":{"field":"b","type":"quantitative"},"y":{"field":"p","type":"quantitative"}}},
{"data":{"name":"events"},"mark":{"type":"point","shape":"square","size":36,"filled":true,"color":"#6f78d8","opacity":0.9,"yOffset":-2,"xOffset":-2},"encoding":{"x":{"field":"b","type":"quantitative"},"y":{"field":"p","type":"quantitative"}}},
{"data":{"name":"events"},"mark":{"type":"tick","orient":"horizontal","color":"#ef4444","size":14,"thickness":2,"yOffset":3},"encoding":{"x":{"field":"b","type":"quantitative"},"y":{"field":"p","type":"quantitative"}}},
{"data":{"name":"events"},"mark":{"type":"text","fontSize":8,"color":"#4c525e","align":"left","dx":3,"dy":-5},"encoding":{"x":{"field":"b","type":"quantitative"},"y":{"field":"p","type":"quantitative"},"text":{"field":"n"}}},
{"data":{"values":[{"b":358.2,"b2":370.8,"p":1462.24}]},"mark":{"type":"rule","color":"#787b86","strokeWidth":9},"encoding":{"x":{"field":"b","type":"quantitative"},"x2":{"field":"b2"},"y":{"field":"p","type":"quantitative"}}},
{"data":{"values":[{"b":360.4,"p":1462.24,"t":"XAUUSD"}]},"mark":{"type":"text","align":"left","baseline":"middle","fontSize":7.5,"color":"white"},"encoding":{"x":{"field":"b","type":"quantitative"},"y":{"field":"p","type":"quantitative"},"text":{"field":"t"}}},
{"data":{"name":"levels"},"transform":[{"filter":"datum.name!='d'"}],"mark":{"type":"rule","strokeWidth":9,"clip":false},"encoding":{"x":{"datum":371.2,"type":"quantitative"},"x2":{"datum":388.7},"y":{"field":"p","type":"quantitative"},"color":{"field":"name","type":"nominal","legend":null,"scale":{"domain":["a","b","c","d","e","f"],"range":["#79ad5c","#79ad5c","#787b86","#1212f5","#79ad5c","#f22c2c"]}}}},
{"data":{"name":"levels"},"transform":[{"filter":"datum.name=='d'"}],"mark":{"type":"rule","strokeWidth":9,"clip":false,"color":"#1212f5","yOffset":5},"encoding":{"x":{"datum":371.2,"type":"quantitative"},"x2":{"datum":388.7},"y":{"field":"p","type":"quantitative"}}},
{"data":{"name":"levels"},"transform":[{"filter":"datum.name!='d'"}],"mark":{"type":"text","align":"left","baseline":"middle","fontSize":8,"color":"white"},"encoding":{"x":{"datum":375.4,"type":"quantitative"},"y":{"field":"p","type":"quantitative"},"text":{"field":"t"}}},
{"data":{"name":"levels"},"transform":[{"filter":"datum.name=='d'"}],"mark":{"type":"text","align":"left","baseline":"middle","fontSize":8,"color":"white","yOffset":5},"encoding":{"x":{"datum":375.4,"type":"quantitative"},"y":{"field":"p","type":"quantitative"},"text":{"field":"t"}}}
]},
{"width":889,"height":130,
"layer":[
{"data":{"name":"hist"},"mark":{"type":"bar","size":2.8,"clip":true},"encoding":{"x":{"field":"b","type":"quantitative","title":null,"scale":{"domain":[0,360.4],"nice":false,"zero":false,"padding":0},
"axis":{"orient":"bottom","tickCount":40,"values":[21.7,57.4,81.6,111.5,141.3,171.3,194.6,231,261,302,336.8,359.7],"labelExpr":"{'21.7':'23','57.4':'Oct','81.6':'7','111.5':'14','141.3':'21','171.3':'28','194.6':'Nov','231':'11','261':'18','302':'25','336.8':'Dec','359.7':'5'}[''+datum.value]","labelFontSize":8,"labelColor":"#4c525e","labelFlush":false,"labelBound":false,"labelOverlap":false,"tickSize":3,"tickColor":"#787b86","labelPadding":2,"domainColor":"#787b86","domainWidth":2,"grid":true,"gridColor":"#eef1f4","title":null}},
"y":{"field":"v","type":"quantitative","title":null,"scale":{"domain":[-12.85,8.15],"nice":false,"padding":0},
"axis":{"orient":"right","tickCount":40,"values":[8,4,0,-4,-8,-12],"format":".2f","labelFontSize":8,"labelColor":"#4c525e","labelBound":false,"labelFlush":false,"labelOverlap":false,"tickSize":5,"tickColor":"#787b86","labelPadding":5,"domainColor":"#787b86","domainWidth":2,"grid":true,"gridColor":"#f4f5f7","title":null}},
"color":{"field":"k","type":"nominal","legend":null,"scale":{"domain":["U","u","D","d"],"range":["#26a69a","#b7dde6","#f6483f","#ffcdd2"]}}}},
{"data":{"name":"signal"},"mark":{"type":"line","color":"#fbc9a6","strokeWidth":1.2,"interpolate":"monotone"},"encoding":{"x":{"field":"b","type":"quantitative"},"y":{"field":"v","type":"quantitative"}}},
{"data":{"name":"macd"},"mark":{"type":"line","color":"#a8d8ef","strokeWidth":1.2,"interpolate":"monotone"},"encoding":{"x":{"field":"b","type":"quantitative"},"y":{"field":"v","type":"quantitative"}}},
{"data":{"values":[{"b":2.4,"v":6.3,"t":"MACD (12, 26, close, 9)"}]},"mark":{"type":"text","align":"left","baseline":"middle","fontSize":8,"color":"#6a6d78"},"encoding":{"x":{"field":"b","type":"quantitative"},"y":{"field":"v","type":"quantitative"},"text":{"field":"t"}}}
]}
]}
